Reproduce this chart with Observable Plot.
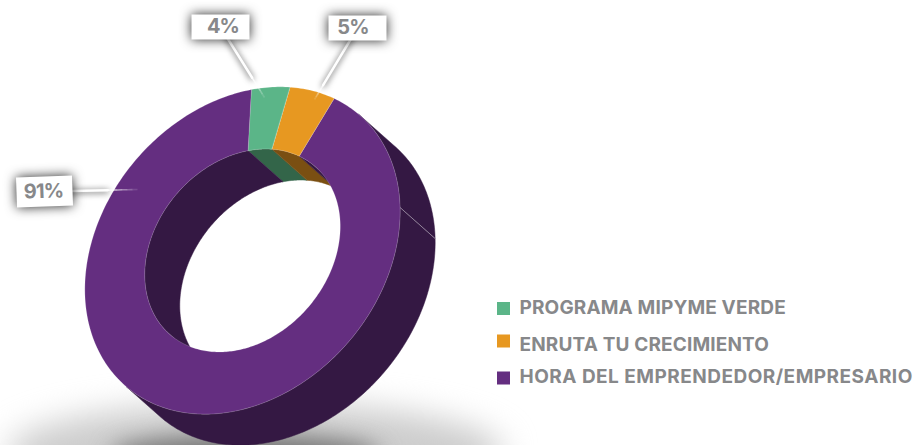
<!DOCTYPE html>
<html><head><meta charset="utf-8">
<script src="https://cdn.jsdelivr.net/npm/d3@7"></script>
<script src="https://cdn.jsdelivr.net/npm/@observablehq/plot@0.6"></script>
<style>html,body{margin:0;background:#fff}svg{display:block}</style>
</head><body><div id="chart"></div>
<script>
// data
const categories = ["PROGRAMA MIPYME VERDE", "ENRUTA TU CRECIMIENTO", "HORA DEL EMPRENDEDOR/EMPRESARIO"];
const values = [4, 5, 91];
const labels = ["4%", "5%", "91%"];
const faceColors = ["#5bb588", "#e79821", "#642e80"];
const wallColors = ["#336549", "#7a4f12", "#341843"];

// projection of the tilted disc
const W = 914, H = 445;
const centre = [242, 250], u = [0.65, -0.76], v = [0.76, 0.65];
const major = 179, minor = 140, hole = 0.62, depth = [35, 31];
const firstAngle = -44.3, wallBreak = 41;
const rad = Math.PI / 180;
const pt = (deg, r, d = 0) => {
  const a = major * r * Math.cos(deg * rad), b = minor * r * Math.sin(deg * rad);
  return {x: centre[0] + a * u[0] + b * v[0] + d * depth[0], y: centre[1] + a * u[1] + b * v[1] + d * depth[1]};
};
const arc = (a0, a1, r, d) => {
  const n = Math.max(2, Math.ceil(Math.abs(a1 - a0)));
  return d3.range(n + 1).map(i => pt(a0 + (a1 - a0) * i / n, r, d));
};
const poly = (pts, id, fill) => pts.map(p => ({...p, id, fill}));

const total = d3.sum(values);
const ends = d3.cumsum(values).map(c => firstAngle + 360 * c / total);
const slices = values.map((val, i) => ({i, a0: i ? ends[i - 1] : firstAngle, a1: ends[i]}));

const faces = slices.flatMap(s => poly([...arc(s.a0, s.a1, 1, 0), ...arc(s.a1, s.a0, hole, 0)], "f" + s.i, faceColors[s.i]));

// wall of the hole: only the half that faces the viewer
const innerWalls = slices.flatMap(s => [[180, 360], [540, 720], [-180, 0]].flatMap(([lo, hi], k) => {
  const a0 = Math.max(s.a0, lo), a1 = Math.min(s.a1, hi);
  return a1 > a0 ? poly([...arc(a0, a1, hole, 0), ...arc(a1, a0, hole, 1)], `i${s.i}-${k}`, wallColors[s.i]) : [];
}));

// outer wall
const last = wallColors.length - 1;
const outerWalls = [[0, wallBreak], [wallBreak, 180]].flatMap(([a0, a1], k) =>
  poly([...arc(a0, a1, 1, 0), ...arc(a1, a0, 1, 1)], "o" + k, wallColors[last]));
const wallEdge = [pt(wallBreak, 1, 0), pt(wallBreak, 1, 1)];

// floor shadow
const blob = (cx, cy, rx, ry, id) => d3.range(0, 360, 4).map(t => ({x: cx + rx * Math.cos(t * rad), y: cy + ry * Math.sin(t * rad), id}));
const shadowWide = blob(255, 452, 248, 50, "s1");
const shadowCore = blob(245, 454, 135, 20, "s2");

// callouts
const boxes = [
  {cx: 220, cy: 26.5, w: 58, h: 25, tilt: 0, tx: 222.5, end: [264, 97], edge: 0.72},
  {cx: 357, cy: 27.5, w: 58, h: 25, tilt: 0, tx: 352.5, end: [314, 99], edge: 0.80},
  {cx: 44, cy: 191, w: 56, h: 30, tilt: -2, tx: 43, end: [137, 189], edge: 0.68}
];
const boxPolys = boxes.flatMap((b, i) => {
  const c = Math.cos(b.tilt * rad), s = Math.sin(b.tilt * rad);
  return [[-1, -1], [1, -1], [1, 1], [-1, 1]].map(([p, q]) => {
    const dx = p * b.w / 2, dy = q * b.h / 2;
    return {x: b.cx + dx * c - dy * s, y: b.cy + dx * s + dy * c, id: i};
  });
});
const boxText = boxes.map((b, i) => ({x: b.tx, y: b.cy, t: labels[i], r: b.tilt}));
const stems = boxes.map((b, i) => {
  const st = [b.cx, b.cy];
  return [{x: st[0], y: st[1], id: i}, {x: st[0] + (b.end[0] - st[0]) * b.edge, y: st[1] + (b.end[1] - st[1]) * b.edge, id: i}];
}).flat();
const fade = boxes.flatMap((b, i) => d3.range(6).map(k => {
  const f = t => b.edge + (1 - b.edge) * t;
  const p = t => [b.cx + (b.end[0] - b.cx) * f(t), b.cy + (b.end[1] - b.cy) * f(t)];
  const [x1, y1] = p(k / 6), [x2, y2] = p((k + 1) / 6);
  return {x1, y1, x2, y2, o: 0.8 * (1 - k / 6)};
}));

// legend
const legendY = [307.5, 344, 376];
const swatchY = [308.5, 341, 378];
const legendTracking = ["0.15px", "0.15px", "0.48px"];
const legendX = 519, swatchX = 497, swatch = 13;
const legendRows = categories.map((c, i) => ({c, i, y: legendY[i], sy: swatchY[i], fill: faceColors[i]}));

const font = "Inter, 'Open Sans', sans-serif";
const grey = "#87888a";

const plot = Plot.plot({
  width: W, height: H, margin: 0,
  x: {domain: [0, W], range: [0, W], axis: null},
  y: {domain: [0, H], range: [0, H], axis: null},
  color: {type: "identity"},
  style: {background: "#fff"},
  marks: [
    Plot.line(shadowWide, {x: "x", y: "y", z: "id", curve: "linear-closed", fill: "#cdcdcd", stroke: "none", imageFilter: "blur(16px)"}),
    Plot.line(shadowCore, {x: "x", y: "y", z: "id", curve: "linear-closed", fill: "#777", stroke: "none", imageFilter: "blur(11px)"}),
    Plot.line(outerWalls, {x: "x", y: "y", z: "id", curve: "linear-closed", fill: "fill", stroke: "fill", strokeWidth: 0.5}),
    Plot.line(wallEdge, {x: "x", y: "y", stroke: "#fff", strokeOpacity: 0.6, strokeWidth: 0.7}),
    Plot.line(innerWalls, {x: "x", y: "y", z: "id", curve: "linear-closed", fill: "fill", stroke: "fill", strokeWidth: 0.5}),
    Plot.line(faces, {x: "x", y: "y", z: "id", curve: "linear-closed", fill: "fill", stroke: "#fff", strokeOpacity: 0.3, strokeWidth: 0.6}),
    Plot.line(stems, {x: "x", y: "y", z: "id", stroke: "#fff", strokeWidth: 2.5, imageFilter: "drop-shadow(0 1px 3px rgba(0,0,0,.8))"}),
    Plot.link(fade, {x1: "x1", y1: "y1", x2: "x2", y2: "y2", stroke: "#fff", strokeWidth: 1.6, strokeOpacity: "o"}),
    Plot.line(boxPolys, {x: "x", y: "y", z: "id", curve: "linear-closed", fill: "#fff", stroke: "none", imageFilter: "drop-shadow(0 0 6px rgba(0,0,0,.85))"}),
    Plot.text(boxText, {x: "x", y: "y", text: "t", rotate: "r", fill: grey, fontSize: 20, fontWeight: 700, fontFamily: font}),
    Plot.rect(legendRows, {x1: () => swatchX, x2: () => swatchX + swatch, y1: d => d.sy - swatch / 2, y2: d => d.sy + swatch / 2, fill: "fill"}),
    Plot.text(legendRows, {x: () => legendX, y: "y", text: "c", textAnchor: "start", fill: grey, fontSize: 19, fontWeight: 700, fontFamily: font})
  ]
});
const textLayers = plot.querySelectorAll('g[aria-label="text"]');
textLayers[0].style.letterSpacing = "-0.8px";
textLayers[1].querySelectorAll("text").forEach((t, i) => { t.style.letterSpacing = legendTracking[i]; });
document.getElementById("chart").append(plot);
</script></body></html>
